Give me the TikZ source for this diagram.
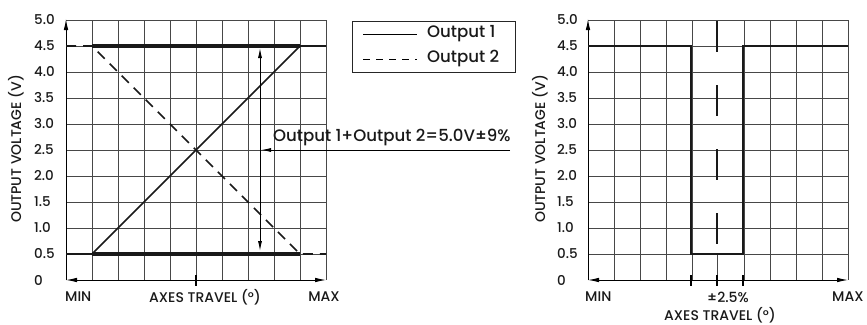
\documentclass[tikz,border=0pt]{standalone}
\usepackage{fontspec}
\setmainfont{Poppins}[UprightFont={* Medium}]
\usetikzlibrary{arrows.meta}
\tikzset{
  gridline/.style={draw=black!72, line width=0.8pt},
  axisline/.style={draw=black, line width=0.9pt},
  thickbar/.style={draw=black!90, line width=4pt},
  outone/.style={draw=black!90, line width=1.7pt},
  outtwo/.style={draw=black!90, line width=1.7pt, dash pattern=on 10pt off 7pt},
  tickmark/.style={draw=black, line width=2.5pt},
  lbl/.style={font=\fontsize{14}{16}\selectfont, inner sep=0pt, text=black!90},
  biglbl/.style={font=\fontsize{16.6}{19}\selectfont, inner sep=0pt, text=black!90},
  ylbl/.style={font=\fontsize{13.5}{15}\selectfont, inner sep=0pt, text=black!90, anchor=west},
}
\begin{document}
\begin{tikzpicture}[x=1pt,y=-1pt]
\useasboundingbox (0,0) rectangle (867,324);

% ================= LEFT CHART =================
\foreach \i in {1,...,10} \draw[gridline] (66+26*\i,20) -- (66+26*\i,280);
\foreach \j in {0,...,9} \draw[gridline] (66,20+26*\j) -- (326,20+26*\j);
% axes
\draw[axisline, -{Latex[length=11pt,width=4.5pt]}] (66,280) -- (66,19);
\draw[axisline, {Latex[length=11pt,width=4.5pt]}-{Latex[length=11pt,width=4.5pt]}] (66,280) -- (326,280);
\draw[tickmark] (196,275) -- (196,286);
% thick bars
\draw[thickbar] (92,46) -- (300,46);
\draw[thickbar] (92,254) -- (300,254);
% outputs
\draw[outone] (66,254) -- (92,254) -- (300,46) -- (326,46);
\draw[outtwo] (66,46) -- (92,46) -- (300,254) -- (326,254);
% annotation
\coordinate (arTop) at (260,48);
\coordinate (arBot) at (260,251);
\draw[draw=black, line width=0.9pt, {Latex[length=10pt,width=4pt]}-{Latex[length=10pt,width=4pt]}] (arBot) -- (arTop);
\coordinate (annR) at (510,150);
\coordinate (annL) at (261,150);
\draw[draw=black, line width=0.9pt, -{Latex[length=10pt,width=4pt]}] (annR) -- (annL);
\node[biglbl, anchor=south west] (ann) at (273,146) {Output 1+Output 2=5.0V±9\%};
% legend
\draw[draw=black!85, line width=0.9pt] (352,21) rectangle (515,72);
\draw[draw=black, line width=1pt] (363,34) -- (417,34);
\draw[draw=black, line width=1pt, dash pattern=on 7pt off 6pt] (363,59) -- (417,59);
\node[biglbl, anchor=west] (leg1) at (427,34) {Output 1};
\node[biglbl, anchor=west] (leg2) at (427,58) {Output 2};
% labels
\foreach \v/\t in {0/5.0,1/4.5,2/4.0,3/3.5,4/3.0,5/2.5,6/2.0,7/1.5,8/1.0,9/0.5,10/0}
  \node[ylbl] at (34,20+26*\v) {\t};
\node[lbl, rotate=90] (yL) at (16,149) {OUTPUT VOLTAGE (V)};
\node[lbl, anchor=west] (minL) at (65,297) {MIN};
\node[lbl] (trL) at (205,297) {AXES TRAVEL (°)};
\node[lbl] (maxL) at (324,297) {MAX};

% ================= RIGHT CHART =================
\foreach \i in {1,2,3,4,6,7,8,9,10} \draw[gridline] (588+26*\i,20) -- (588+26*\i,280);
\draw[gridline] (717,254) -- (717,280);
\foreach \j in {0,...,9} \draw[gridline] (588,20+26*\j) -- (848,20+26*\j);
\draw[axisline, -{Latex[length=11pt,width=4.5pt]}] (588,280) -- (588,19);
\draw[axisline, {Latex[length=11pt,width=4.5pt]}-{Latex[length=11pt,width=4.5pt]}] (588,280) -- (848,280);
\draw[draw=black!90, line width=1.7pt, dash pattern=on 31pt off 33pt] (717,21) -- (717,254);
\draw[outone, line join=miter] (588,46) -- (691,46) -- (691,254) -- (743,254) -- (743,46) -- (848,46);
\foreach \x in {691,717,743} \draw[tickmark] (\x,275) -- (\x,286);
\foreach \v/\t in {0/5.0,1/4.5,2/4.0,3/3.5,4/3.0,5/2.5,6/2.0,7/1.5,8/1.0,9/0.5,10/0}
  \node[ylbl] at (557,20+26*\v) {\t};
\node[lbl, rotate=90] (yR) at (540,149) {OUTPUT VOLTAGE (V)};
\node[lbl, anchor=west] (minR) at (585,297) {MIN};
\node[lbl] (pmR) at (728,297) {±2.5\%};
\node[lbl, anchor=west] (maxR) at (832,297) {MAX};
\node[lbl] (trR) at (720,315) {AXES TRAVEL (°)};
\end{tikzpicture}
\end{document}
